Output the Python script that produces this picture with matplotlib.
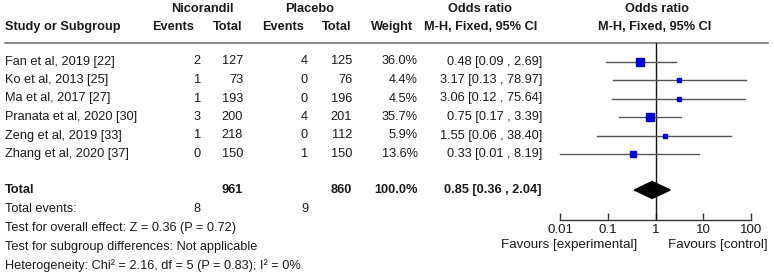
import matplotlib
matplotlib.use("Agg")
import matplotlib.pyplot as plt
import numpy as np

plt.rcParams['font.family'] = ['Liberation Sans', 'DejaVu Sans']

studies = ["Fan et al, 2019 [22]", "Ko et al, 2013 [25]", "Ma et al, 2017 [27]",
           "Pranata et al, 2020 [30]", "Zeng et al, 2019 [33]", "Zhang et al, 2020 [37]"]
nico_events = [2, 1, 1, 3, 1, 0]
nico_total = [127, 73, 193, 200, 218, 150]
plac_events = [4, 0, 0, 4, 0, 1]
plac_total = [125, 76, 196, 201, 112, 150]
weights = [36.0, 4.4, 4.5, 35.7, 5.9, 13.6]
odds = [0.48, 3.17, 3.06, 0.75, 1.55, 0.33]
ci_low = [0.09, 0.13, 0.12, 0.17, 0.06, 0.01]
ci_high = [2.69, 78.97, 75.64, 3.39, 38.40, 8.19]

total_nico = 961
total_plac = 860
total_weight = 100.0
total_events_nico = 8
total_events_plac = 9
pooled_or = 0.85
pooled_low = 0.36
pooled_high = 2.04

footer_lines = ["Test for overall effect: Z = 0.36 (P = 0.72)",
                "Test for subgroup differences: Not applicable",
                "Heterogeneity: Chi\u00b2 = 2.16, df = 5 (P = 0.83); I\u00b2 = 0%"]
tick_values = [0.01, 0.1, 1, 10, 100]
tick_labels = ["0.01", "0.1", "1", "10", "100"]

W, H = 774, 273
fig = plt.figure(figsize=(W / 100, H / 100), dpi=100)
ax = fig.add_axes([0, 0, 1, 1])
ax.set_xlim(0, W)
ax.set_ylim(H, 0)
ax.axis('off')

FS = 9.2
TC = '#1a1a1a'

# layout
row0, row_step = 61.5, 18.5
row_y = [row0 + i * row_step for i in range(len(studies))]
total_y = 190
events_y = 209
footer_y = [228, 247, 266]

c_study = 5
c_ne, c_nt, c_pe, c_pt, c_w, c_ci = 201, 243, 308, 352, 418, 542

# headers
hb = dict(fontsize=FS, fontweight='bold', color=TC, va='center')
ax.text(202, 9, "Nicorandil", ha='center', **hb)
ax.text(310, 9, "Placebo", ha='center', **hb)
ax.text(480, 9, "Odds ratio", ha='center', **hb)
ax.text(657, 9, "Odds ratio", ha='center', **hb)
ax.text(c_study, 27, "Study or Subgroup", ha='left', **hb)
ax.text(173, 27, "Events", ha='center', **hb)
ax.text(228, 27, "Total", ha='center', **hb)
ax.text(283, 27, "Events", ha='center', **hb)
ax.text(337, 27, "Total", ha='center', **hb)
ax.text(392, 27, "Weight", ha='center', **hb)
ax.text(481, 27, "M-H, Fixed, 95% CI", ha='center', **hb)
ax.text(655, 27, "M-H, Fixed, 95% CI", ha='center', **hb)
ax.plot([5, 768], [43, 43], color='#777777', lw=1.2)

tn = dict(fontsize=FS, color=TC, va='center')
for i, y in enumerate(row_y):
    ax.text(c_study, y, studies[i], ha='left', **tn)
    ax.text(c_ne, y, str(nico_events[i]), ha='right', **tn)
    ax.text(c_nt, y, str(nico_total[i]), ha='right', **tn)
    ax.text(c_pe, y, str(plac_events[i]), ha='right', **tn)
    ax.text(c_pt, y, str(plac_total[i]), ha='right', **tn)
    ax.text(c_w, y, f"{weights[i]:.1f}%", ha='right', **tn)
    ax.text(c_ci, y, f"{odds[i]:.2f} [{ci_low[i]:.2f} , {ci_high[i]:.2f}]", ha='right', **tn)

ax.text(c_study, total_y, "Total", ha='left', **hb)
ax.text(c_nt, total_y, str(total_nico), ha='right', **hb)
ax.text(c_pt, total_y, str(total_plac), ha='right', **hb)
ax.text(c_w, total_y, f"{total_weight:.1f}%", ha='right', **hb)
ax.text(c_ci, total_y, f"{pooled_or:.2f} [{pooled_low:.2f} , {pooled_high:.2f}]", ha='right', **hb)

ax.text(c_study, events_y, "Total events:", ha='left', **tn)
ax.text(c_ne, events_y, str(total_events_nico), ha='right', **tn)
ax.text(c_pe, events_y, str(total_events_plac), ha='right', **tn)
for y, t in zip(footer_y, footer_lines):
    ax.text(c_study, y, t, ha='left', **tn)

# forest axes
x0, x1 = 560, 751
fx = fig.add_axes([x0 / W, 0, (x1 - x0) / W, 1])
fx.set_xscale('log')
fx.set_xlim(tick_values[0], tick_values[-1])
fx.set_ylim(H, 0)
fx.patch.set_visible(False)
for s in ['top', 'left', 'right']:
    fx.spines[s].set_visible(False)
axis_y = 220
fx.spines['bottom'].set_position(('data', axis_y))
fx.spines['bottom'].set_color('#333333')
fx.spines['bottom'].set_linewidth(1.0)
fx.set_yticks([])
fx.set_xticks(tick_values)
fx.set_xticklabels(tick_labels)
fx.xaxis.set_minor_locator(matplotlib.ticker.NullLocator())
fx.tick_params(axis='x', direction='in', length=5, width=1.0, color='#333333',
               labelsize=9.6, labelcolor=TC, pad=3)

fx.plot([1, 1], [43, axis_y], color='#111111', lw=1.0, clip_on=False)

for i, y in enumerate(row_y):
    fx.plot([ci_low[i], ci_high[i]], [y, y], color='#555555', lw=1.0, clip_on=False)
    fx.plot([odds[i]], [y], marker='s', color='#0000cc', mec='#0000cc',
            markersize=0.9 * np.sqrt(weights[i]) + 0.6, clip_on=False, zorder=3)

dh = 8.5
fx.fill([pooled_low, pooled_or, pooled_high, pooled_or],
        [total_y, total_y - dh, total_y, total_y + dh], color='black', zorder=4, clip_on=False)

ax.text(637, 245, "Favours [experimental]", ha='right', fontsize=9.6, color=TC, va='center')
ax.text(768, 245, "Favours [control]", ha='right', fontsize=9.6, color=TC, va='center')

fig.savefig("out.png", dpi=100)
